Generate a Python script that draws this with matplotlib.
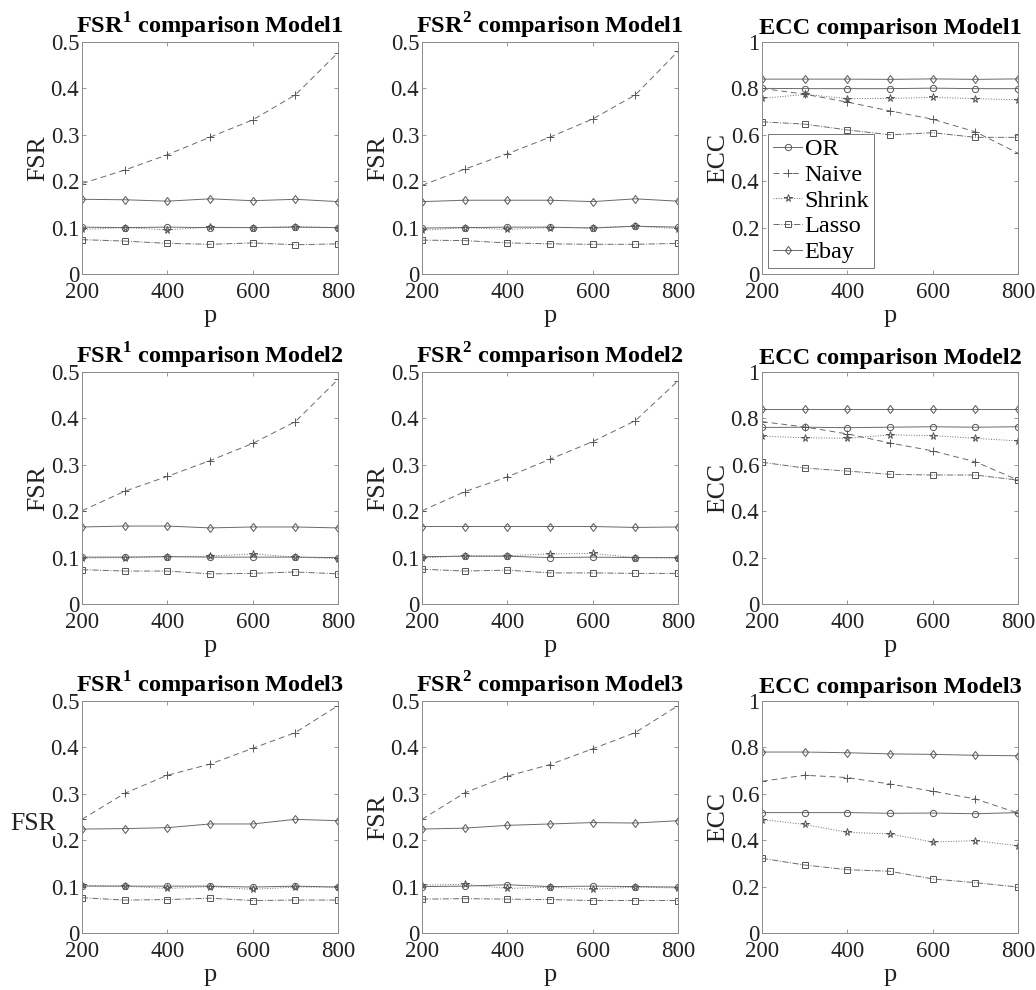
import matplotlib
matplotlib.use("Agg")
import matplotlib.pyplot as plt

plt.rcParams['font.family'] = ['Liberation Serif', 'DejaVu Serif']
plt.rcParams['mathtext.fontset'] = 'custom'
plt.rcParams['mathtext.rm'] = 'Liberation Serif:bold'
plt.rcParams['mathtext.bf'] = 'Liberation Serif:bold'

p = [200, 300, 400, 500, 600, 700, 800]
methods = ['OR', 'Naive', 'Shrink', 'Lasso', 'Ebay']

# Model 1
fsr1_m1 = {
    'OR':     [0.101, 0.100, 0.101, 0.100, 0.100, 0.101, 0.100],
    'Naive':  [0.195, 0.224, 0.257, 0.295, 0.332, 0.386, 0.477],
    'Shrink': [0.096, 0.100, 0.095, 0.101, 0.100, 0.102, 0.100],
    'Lasso':  [0.074, 0.071, 0.066, 0.064, 0.067, 0.063, 0.065],
    'Ebay':   [0.161, 0.160, 0.157, 0.162, 0.158, 0.161, 0.156],
}
fsr2_m1 = {
    'OR':     [0.099, 0.100, 0.101, 0.101, 0.099, 0.103, 0.101],
    'Naive':  [0.191, 0.226, 0.259, 0.295, 0.334, 0.386, 0.480],
    'Shrink': [0.094, 0.100, 0.096, 0.100, 0.100, 0.103, 0.098],
    'Lasso':  [0.073, 0.072, 0.067, 0.065, 0.064, 0.064, 0.066],
    'Ebay':   [0.156, 0.159, 0.159, 0.159, 0.156, 0.162, 0.157],
}
ecc_m1 = {
    'OR':     [0.800, 0.799, 0.799, 0.799, 0.801, 0.799, 0.799],
    'Naive':  [0.800, 0.775, 0.741, 0.703, 0.667, 0.613, 0.521],
    'Shrink': [0.757, 0.774, 0.756, 0.757, 0.761, 0.756, 0.751],
    'Lasso':  [0.656, 0.646, 0.621, 0.600, 0.609, 0.589, 0.589],
    'Ebay':   [0.840, 0.840, 0.840, 0.839, 0.841, 0.839, 0.841],
}
# Model 2
fsr1_m2 = {
    'OR':     [0.101, 0.101, 0.102, 0.101, 0.101, 0.101, 0.100],
    'Naive':  [0.201, 0.243, 0.275, 0.309, 0.346, 0.393, 0.484],
    'Shrink': [0.099, 0.100, 0.102, 0.103, 0.108, 0.101, 0.098],
    'Lasso':  [0.074, 0.071, 0.071, 0.065, 0.066, 0.069, 0.065],
    'Ebay':   [0.166, 0.168, 0.168, 0.164, 0.166, 0.166, 0.164],
}
fsr2_m2 = {
    'OR':     [0.102, 0.103, 0.103, 0.100, 0.101, 0.100, 0.100],
    'Naive':  [0.201, 0.242, 0.274, 0.312, 0.350, 0.395, 0.481],
    'Shrink': [0.099, 0.104, 0.104, 0.108, 0.109, 0.100, 0.099],
    'Lasso':  [0.075, 0.071, 0.073, 0.067, 0.067, 0.066, 0.066],
    'Ebay':   [0.167, 0.167, 0.167, 0.167, 0.167, 0.165, 0.166],
}
ecc_m2 = {
    'OR':     [0.761, 0.762, 0.760, 0.762, 0.764, 0.762, 0.764],
    'Naive':  [0.786, 0.763, 0.733, 0.694, 0.660, 0.613, 0.534],
    'Shrink': [0.723, 0.717, 0.714, 0.729, 0.726, 0.714, 0.703],
    'Lasso':  [0.611, 0.586, 0.573, 0.559, 0.556, 0.556, 0.534],
    'Ebay':   [0.839, 0.839, 0.839, 0.839, 0.839, 0.839, 0.839],
}
# Model 3
fsr1_m3 = {
    'OR':     [0.101, 0.101, 0.101, 0.101, 0.099, 0.101, 0.099],
    'Naive':  [0.245, 0.301, 0.340, 0.364, 0.398, 0.432, 0.490],
    'Shrink': [0.103, 0.101, 0.096, 0.100, 0.094, 0.099, 0.099],
    'Lasso':  [0.076, 0.071, 0.072, 0.075, 0.070, 0.071, 0.071],
    'Ebay':   [0.224, 0.225, 0.227, 0.235, 0.235, 0.245, 0.242],
}
fsr2_m3 = {
    'OR':     [0.100, 0.101, 0.104, 0.100, 0.101, 0.100, 0.099],
    'Naive':  [0.245, 0.302, 0.338, 0.363, 0.397, 0.432, 0.490],
    'Shrink': [0.103, 0.105, 0.096, 0.099, 0.094, 0.099, 0.097],
    'Lasso':  [0.073, 0.074, 0.073, 0.072, 0.070, 0.070, 0.070],
    'Ebay':   [0.224, 0.226, 0.232, 0.235, 0.238, 0.237, 0.242],
}
ecc_m3 = {
    'OR':     [0.519, 0.519, 0.519, 0.516, 0.517, 0.514, 0.519],
    'Naive':  [0.654, 0.680, 0.670, 0.642, 0.611, 0.578, 0.517],
    'Shrink': [0.489, 0.468, 0.434, 0.427, 0.392, 0.398, 0.376],
    'Lasso':  [0.322, 0.293, 0.273, 0.266, 0.233, 0.217, 0.198],
    'Ebay':   [0.780, 0.780, 0.777, 0.772, 0.770, 0.766, 0.764],
}

panels = [
    [(fsr1_m1, r'FSR$^{1}$ comparison Model1', 'FSR'),
     (fsr2_m1, r'FSR$^{2}$ comparison Model1', 'FSR'),
     (ecc_m1, 'ECC comparison Model1', 'ECC')],
    [(fsr1_m2, r'FSR$^{1}$ comparison Model2', 'FSR'),
     (fsr2_m2, r'FSR$^{2}$ comparison Model2', 'FSR'),
     (ecc_m2, 'ECC comparison Model2', 'ECC')],
    [(fsr1_m3, r'FSR$^{1}$ comparison Model3', 'FSR'),
     (fsr2_m3, r'FSR$^{2}$ comparison Model3', 'FSR'),
     (ecc_m3, 'ECC comparison Model3', 'ECC')],
]

styles = {
    'OR':     dict(linestyle='-', marker='o'),
    'Naive':  dict(linestyle=(0, (6, 4)), marker='+'),
    'Shrink': dict(linestyle=':', marker='*'),
    'Lasso':  dict(linestyle='-.', marker='s'),
    'Ebay':   dict(linestyle='-', marker='d'),
}
line_color = '#6a6a6a'

W, H = 1036, 990
fig = plt.figure(figsize=(W / 100, H / 100), dpi=100)

col_left = [82, 422, 762]
row_top = [42, 372, 701]
ax_w, ax_h = 256, 232

for r in range(3):
    for c in range(3):
        data, title, ylab = panels[r][c]
        left = col_left[c] / W
        bottom = 1 - (row_top[r] + ax_h) / H
        ax = fig.add_axes([left, bottom, ax_w / W, ax_h / H])
        for m in methods:
            st = styles[m]
            ms = 4.5
            if st['marker'] == '+':
                ms = 6
            if st['marker'] == '*':
                ms = 5.5
            ax.plot(p, data[m], color=line_color, linewidth=0.7,
                    linestyle=st['linestyle'], marker=st['marker'],
                    markersize=ms, markerfacecolor='none',
                    markeredgecolor='#555555', markeredgewidth=0.7,
                    label=m)
        ax.set_xlim(200, 800)
        if ylab == 'ECC':
            ax.set_ylim(0, 1)
            ax.set_yticks([0, 0.2, 0.4, 0.6, 0.8, 1])
            ax.set_yticklabels(['0', '0.2', '0.4', '0.6', '0.8', '1'])
        else:
            ax.set_ylim(0, 0.5)
            ax.set_yticks([0, 0.1, 0.2, 0.3, 0.4, 0.5])
            ax.set_yticklabels(['0', '0.1', '0.2', '0.3', '0.4', '0.5'])
        ax.set_xticks([200, 400, 600, 800])
        ax.tick_params(direction='in', length=3, width=0.6, color='#888888',
                       top=True, right=True, labelsize=16.5, pad=2,
                       labelcolor='#222222')
        ax.tick_params(axis='x', pad=6)
        for s in ax.spines.values():
            s.set_color('#8a8a8a')
            s.set_linewidth(0.7)
        ax.set_title(title, fontsize=17.5, fontweight='bold', pad=6)
        ax.set_xlabel('p', fontsize=19, labelpad=1, color='#222222')
        if r == 2 and c == 0:
            ax.text(-0.19, 0.47, ylab, transform=ax.transAxes, fontsize=18.5,
                    ha='center', va='center', color='#222222',
                    bbox=dict(facecolor='white', edgecolor='none', pad=0.5))
        else:
            ax.set_ylabel(ylab, fontsize=18.5, labelpad=1, color='#222222')
        if r == 0 and c == 2:
            leg = ax.legend(loc='lower left', fontsize=17.5, handlelength=1.2,
                            handletextpad=0.1, borderpad=0.2,
                            labelspacing=0.15, borderaxespad=0.25,
                            fancybox=False, frameon=True)
            leg.get_frame().set_edgecolor('#555555')
            leg.get_frame().set_linewidth(0.7)

fig.savefig('out.png', dpi=100)
